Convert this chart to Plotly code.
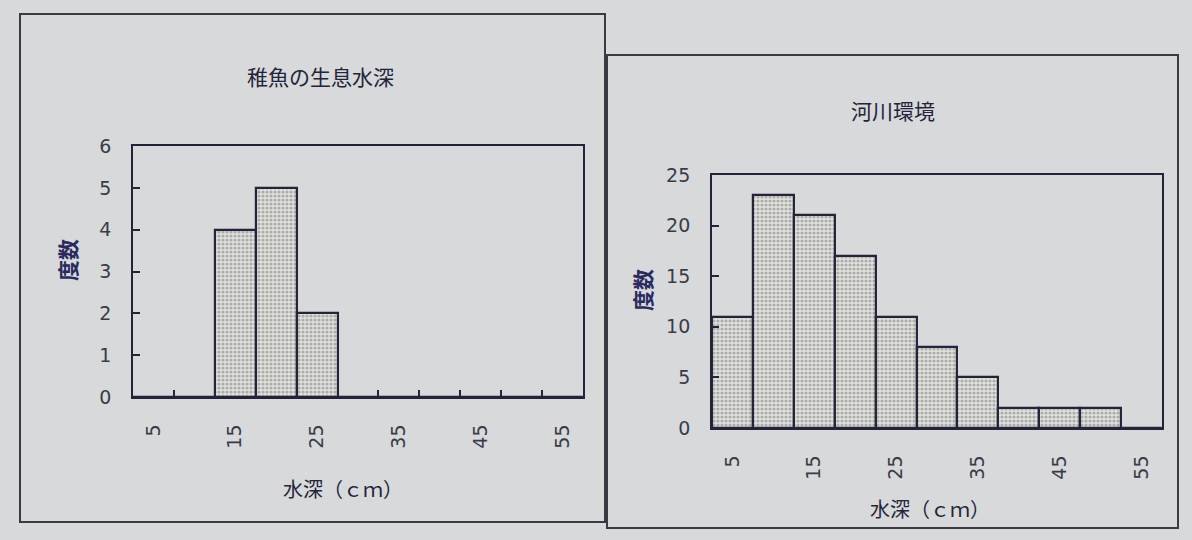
import plotly.graph_objects as go

# ---- data ----
depth_cm = [5, 10, 15, 20, 25, 30, 35, 40, 45, 50, 55]
fry_counts = [0, 0, 4, 5, 2, 0, 0, 0, 0, 0, 0]
river_counts = [11, 23, 21, 17, 11, 8, 5, 2, 2, 2, 0]
label_ticks = [5, 15, 25, 35, 45, 55]
boundary_ticks = [7.5, 12.5, 17.5, 22.5, 27.5, 32.5, 37.5, 42.5, 47.5, 52.5]
title_left = "稚魚の生息水深"
title_right = "河川環境"
x_title = "水深（ｃｍ）"
y_title = "度数"

BG = "#d7d9db"
INK = "#23243a"
FONT_NUM = "DejaVu Sans, Arial, sans-serif"
FONT_JP = "Noto Sans CJK JP, sans-serif"

fig = go.Figure()

bar_style = dict(
    width=5,
    marker=dict(
        line=dict(color=INK, width=2.2),
        pattern=dict(shape=".", fgcolor="#74747c", bgcolor="#e2e2dc", size=4, solidity=0.5),
    ),
    showlegend=False,
    hoverinfo="x+y",
)

fig.add_trace(go.Bar(x=depth_cm, y=fry_counts, xaxis="x", yaxis="y", **bar_style))
fig.add_trace(go.Bar(x=depth_cm, y=river_counts, xaxis="x2", yaxis="y2", **bar_style))

def xaxis(domain, anchor):
    return dict(
        domain=domain, anchor=anchor, range=[2.5, 57.5], automargin=False,
        tickmode="array", tickvals=label_ticks, ticktext=[str(v) for v in label_ticks],
        tickangle=-90, ticks="", showline=True, linecolor=INK, linewidth=1.8, mirror=True,
        showgrid=False, zeroline=False, ticklabelstandoff=18,
        tickfont=dict(family=FONT_NUM, size=19, color="#3a3b48"),
        minor=dict(tickmode="array", tickvals=boundary_ticks, ticks="inside",
                   ticklen=7, tickwidth=1.5, tickcolor=INK, showgrid=False),
    )

def yaxis(domain, anchor, rng, dtick):
    return dict(
        domain=domain, anchor=anchor, range=rng, dtick=dtick, tick0=0, automargin=False,
        ticks="inside", ticklen=7, tickwidth=1.5, tickcolor=INK,
        showline=True, linecolor=INK, linewidth=1.8, mirror=True,
        showgrid=False, zeroline=False, ticklabelstandoff=16,
        tickfont=dict(family=FONT_NUM, size=19, color="#3a3b48"),
    )

fig.update_layout(
    width=1192, height=540,
    margin=dict(l=0, r=0, t=0, b=0, pad=0),
    paper_bgcolor=BG, plot_bgcolor=BG,
    bargap=0,
    xaxis=xaxis([0.1116, 0.4891], "y"),
    yaxis=yaxis([0.2648, 0.7296], "x", [0, 6], 1),
    xaxis2=xaxis([0.5973, 0.9748], "y2"),
    yaxis2=yaxis([0.2074, 0.6759], "x2", [0, 25], 5),
)

ann = []
ann.append(dict(text=title_left, x=320, y=76, size=21))
ann.append(dict(text=title_right, x=893, y=110, size=21))
ann.append(dict(text=x_title, x=343, y=488, size=20))
ann.append(dict(text=x_title, x=930, y=508, size=20))
annotations = []
for a in ann:
    annotations.append(dict(
        text=a["text"], x=a["x"] / 1192, y=1 - a["y"] / 540, xref="paper", yref="paper",
        xanchor="center", yanchor="middle",
        showarrow=False, font=dict(family=FONT_JP, size=a["size"], color=INK),
    ))
for (x, y) in [(67, 260), (642, 290)]:
    annotations.append(dict(
        text="<b>" + y_title + "</b>", x=x / 1192, y=1 - y / 540, xref="paper", yref="paper",
        xanchor="center", yanchor="middle",
        showarrow=False, textangle=-90, font=dict(family=FONT_JP, size=21, color="#2a2a60"),
    ))
fig.update_layout(annotations=annotations)

# page panel frames
fig.add_shape(type="rect", xref="paper", yref="paper",
              x0=20 / 1192, x1=605 / 1192, y0=1 - 522 / 540, y1=1 - 14 / 540,
              line=dict(color="#3a3a44", width=2), fillcolor="rgba(0,0,0,0)", layer="below")
fig.add_shape(type="rect", xref="paper", yref="paper",
              x0=607 / 1192, x1=1178 / 1192, y0=1 - 528 / 540, y1=1 - 55 / 540,
              line=dict(color="#3a3a44", width=2), fillcolor="rgba(0,0,0,0)", layer="below")

fig.write_html("out.html", config={"displayModeBar": False})

# remove the default page margin so the figure fills the window exactly
with open("out.html", "r", encoding="utf-8") as f:
    html = f.read()
html = html.replace("<body>", '<body style="margin:0;padding:0;overflow:hidden;">', 1)
with open("out.html", "w", encoding="utf-8") as f:
    f.write(html)
